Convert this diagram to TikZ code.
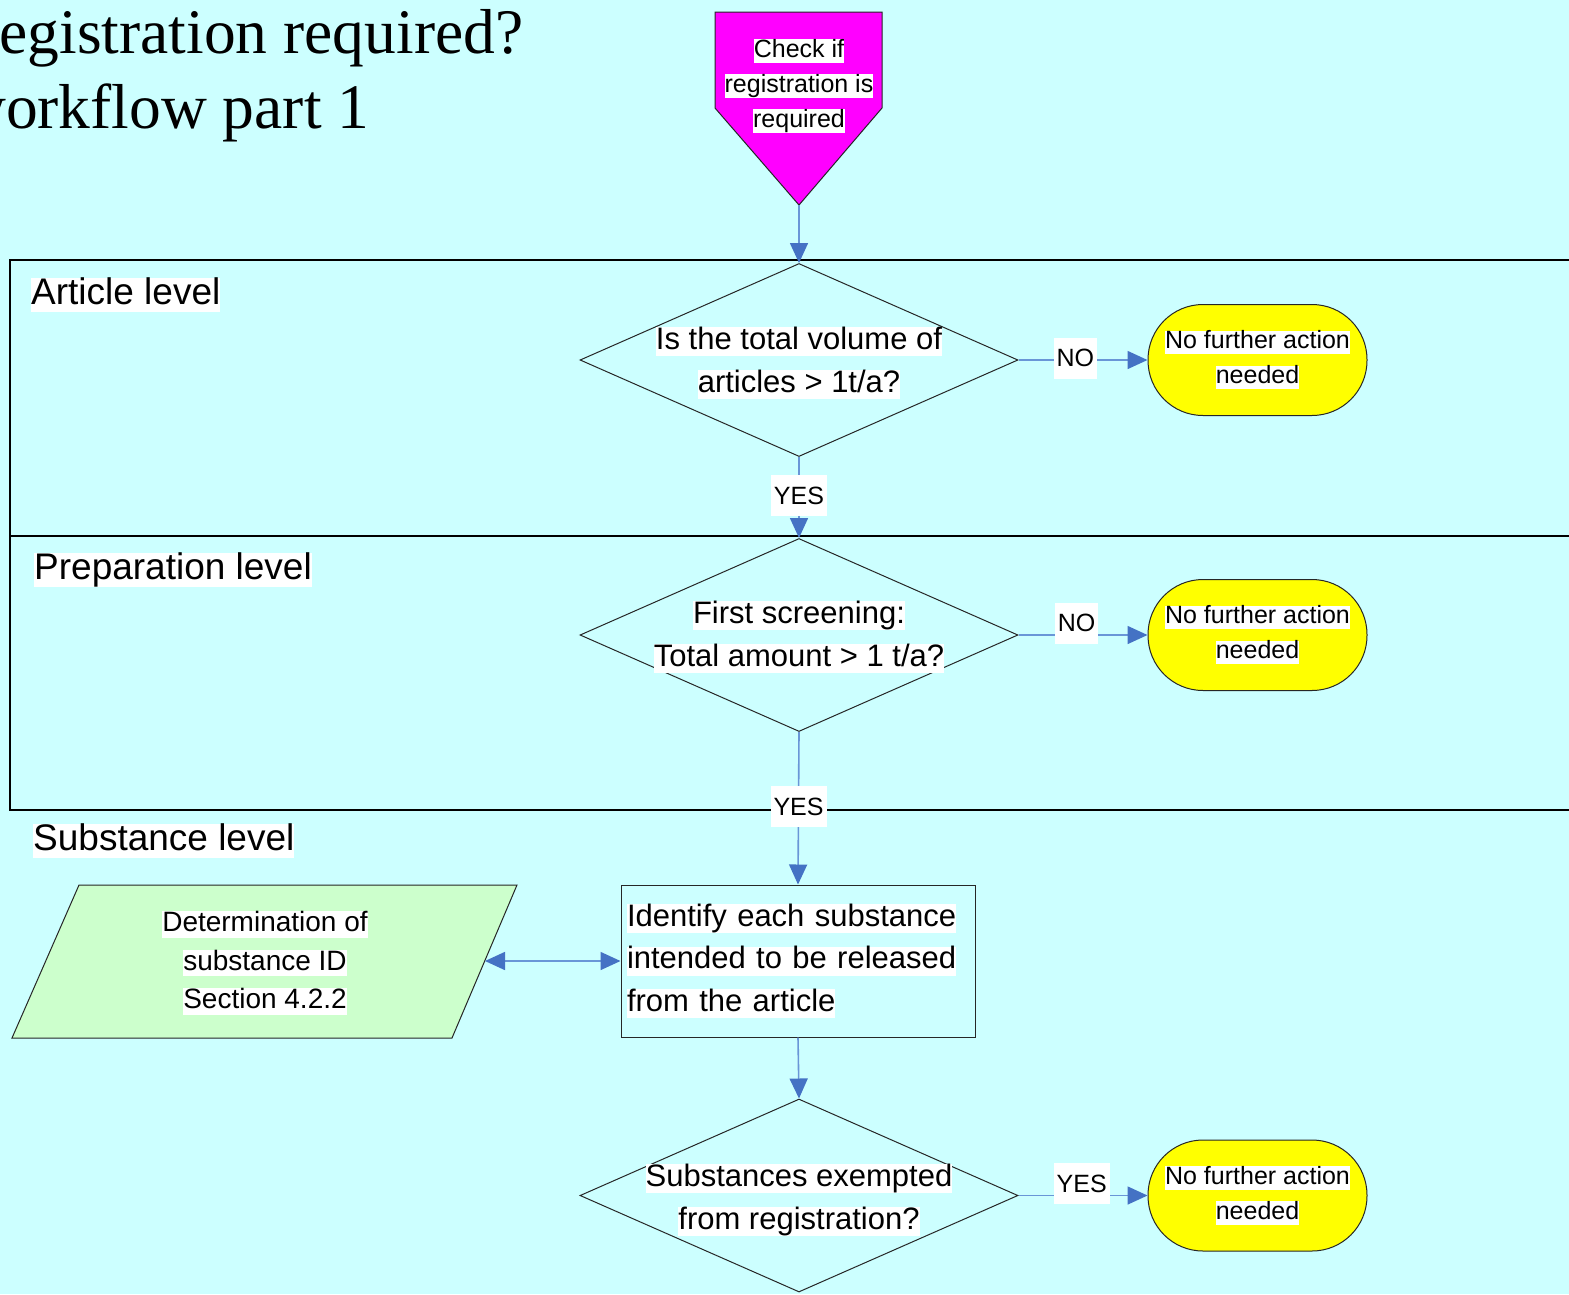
\documentclass[tikz,border=0pt]{standalone}
\usepackage{fontspec}
\setmainfont{Liberation Sans}
\newfontfamily\titlefont{Liberation Serif}
\usetikzlibrary{shapes.geometric,arrows.meta}
\definecolor{bgc}{RGB}{204,255,255}
\definecolor{magc}{RGB}{255,0,255}
\definecolor{yelc}{RGB}{255,255,0}
\definecolor{grnc}{RGB}{204,255,204}
\definecolor{arrowblue}{RGB}{68,114,196}
\definecolor{lineblue}{RGB}{105,150,215}
\newcommand{\hl}[1]{{\fboxsep=0pt\colorbox{white}{\rule[-0.21em]{0pt}{0.83em}#1}}}
\begin{document}
\begin{tikzpicture}[x=1pt,y=-1pt,
  dia/.style={diamond, draw=black!85, line width=1pt, minimum width=438pt, minimum height=193pt, inner sep=0pt},
  dtext/.style={align=center, inner sep=0pt, font=\fontsize{31}{43}\selectfont},
  term/.style={rectangle, rounded corners=55pt, draw=black!85, line width=1pt, fill=yelc, minimum width=219pt, minimum height=111pt, align=center, inner sep=0pt, font=\fontsize{25}{35}\selectfont},
  lbl/.style={fill=white, inner xsep=3pt, inner ysep=2pt, minimum height=41pt, font=\fontsize{25}{30}\selectfont},
  lvl/.style={draw=black, line width=1.5pt},
  lvllbl/.style={anchor=west, inner sep=0pt, font=\fontsize{37}{44}\selectfont},
  conn/.style={draw=lineblue, line width=1.6pt, -{Triangle[length=20pt,width=18pt,color=arrowblue]}},
  dconn/.style={draw=lineblue, line width=1.6pt, {Triangle[length=20pt,width=18pt,color=arrowblue]}-{Triangle[length=20pt,width=18pt,color=arrowblue]}},
  shapeline/.style={draw=black!85, line width=1pt}
]
\useasboundingbox (0,0) rectangle (1569,1294);
\clip (0,0) rectangle (1569,1294);
\fill[bgc] (0,0) rectangle (1569,1294);

% title
\node[anchor=base west, inner sep=0pt, font=\titlefont\fontsize{63.5}{76}\selectfont] (title1) at (-43,53) {Registration required?};
\node[anchor=base west, inner sep=0pt, font=\titlefont\fontsize{63.5}{76}\selectfont] (title2) at (-40,128) {workflow part 1};

% level frames
\draw[lvl] (10,260) rectangle (1620,536);
\draw[lvl] (10,536) rectangle (1620,810);
\node[lvllbl] (lart) at (31,295) {\hl{Article level}};
\node[lvllbl] (lprep) at (34,570) {\hl{Preparation level}};
\node[lvllbl] (lsub) at (33,841) {\hl{Substance level}};

% start pentagon
\draw[shapeline, fill=magc] (715,12) -- (882,12) -- (882,108) -- (799,205) -- (715,108) -- cycle;
\coordinate (ptip) at (799,205);
\node[align=center, inner sep=0pt, font=\fontsize{25}{35}\selectfont] (start) at (799,86) {\hl{Check if}\\\hl{registration is}\\\hl{required}};

% decisions
\node[dia] (d1) at (799,360) {};
\node[dtext] (d1t) at (799,363) {\hl{Is the total volume of}\\\hl{articles > 1t/a?}};
\node[dia] (d2) at (799,635) {};
\node[dtext] (d2t) at (799,637) {\hl{First screening:}\\\hl{Total amount > 1 t/a?}};
\node[dia] (d3) at (799,1195.5) {};
\node[dtext] (d3t) at (799,1200) {\hl{Substances exempted}\\\hl{from registration?}};

% terminals
\node[term] (t1) at (1257.5,360) {\hl{No further action}\\\hl{needed}};
\node[term] (t2) at (1257.5,635) {\hl{No further action}\\\hl{needed}};
\node[term] (t3) at (1257.5,1195.5) {\hl{No further action}\\\hl{needed}};

% process box
\node[rectangle, draw=black!85, line width=1pt, minimum width=354pt, minimum height=152pt, text width=342pt, inner xsep=6pt, align=left, font=\fontsize{31}{42.5}\selectfont] (idb) at (798,961) {\hl{Identify each substance}\\\hl{intended to be released}\\\hl{from the article}};

% data parallelogram
\draw[shapeline, fill=grnc] (79,885) -- (517,885) -- (452,1038) -- (12,1038) -- cycle;
\coordinate (parR) at (485,961);
\node[align=center, inner sep=0pt, font=\fontsize{28}{38.5}\selectfont] (par) at (265,963) {\hl{Determination of}\\\hl{substance ID}\\\hl{Section 4.2.2}};

% connectors
\draw[conn] (ptip) -- (d1.north);
\draw[conn] (d1.south) -- node[lbl, pos=0.48] (y1) {YES} (d2.north);
\draw[conn] (d1.east) -- node[lbl, pos=0.44, yshift=2pt] (n1) {NO} (t1.west);
\draw[conn] (d2.east) -- node[lbl, pos=0.45, yshift=12pt] (n2) {NO} (t2.west);
\draw[conn] (d2.south) -- node[lbl, pos=0.49] (y2) {YES} (idb.north);
\draw[dconn] (parR) -- (idb.west);
\draw[conn] (idb.south) -- (d3.north);
\draw[conn] (d3.east) -- node[lbl, pos=0.49, yshift=12pt] (y3) {YES} (t3.west);
\end{tikzpicture}
\end{document}
